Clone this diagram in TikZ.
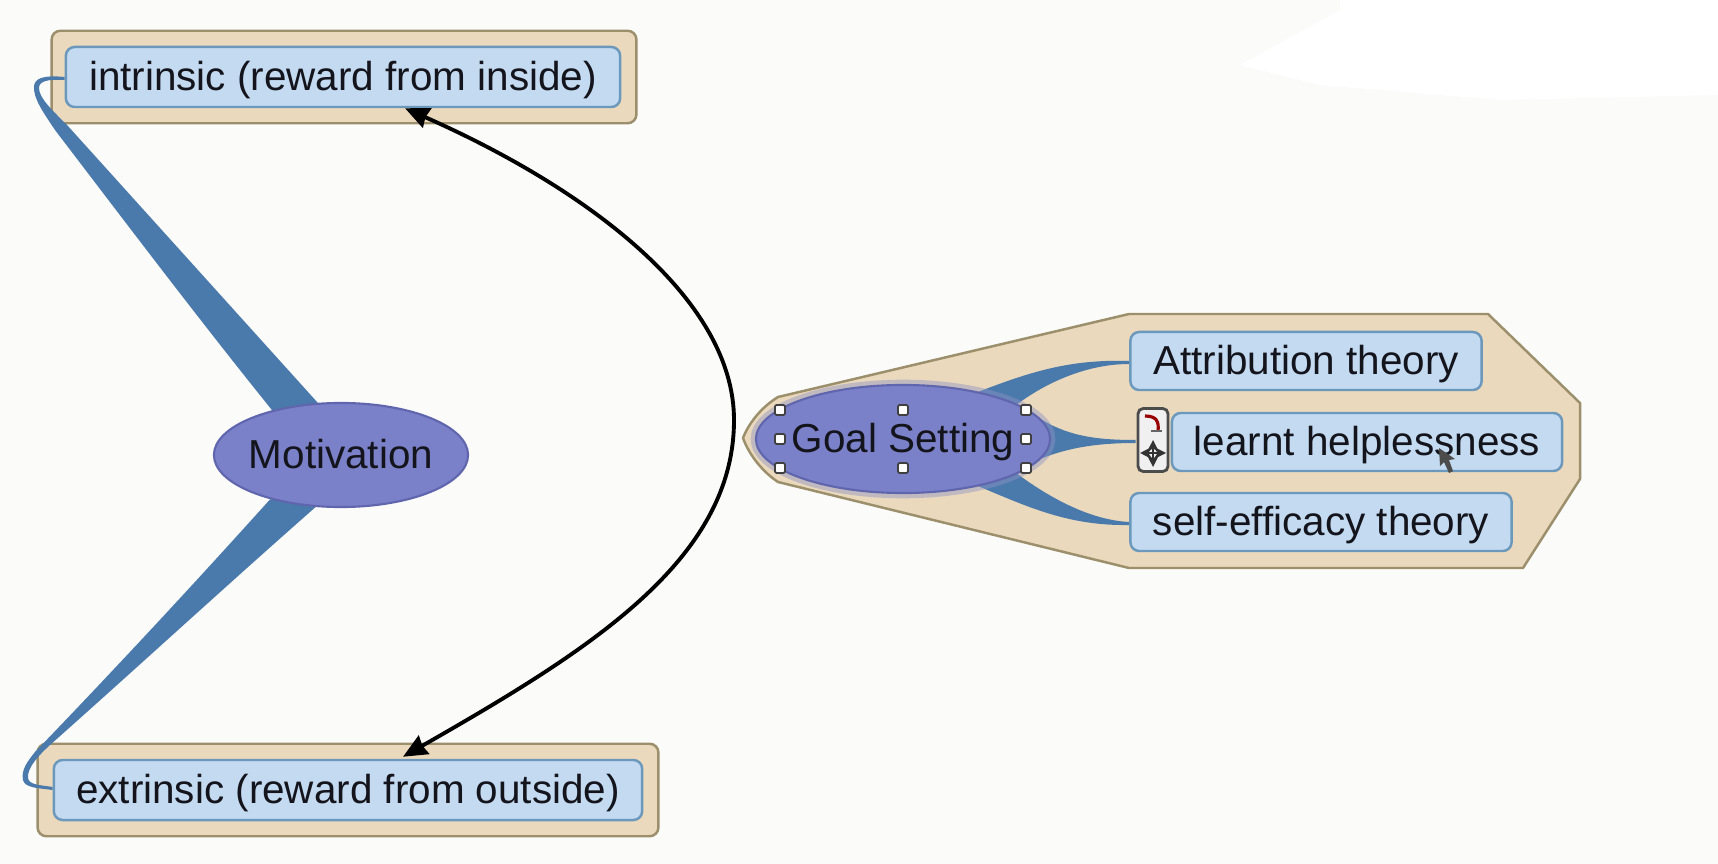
\documentclass[tikz,border=0pt]{standalone}
\usepackage{fontspec}
\setmainfont{Liberation Sans}
\usepackage{tikz}
\usetikzlibrary{calc, arrows.meta, fit, shapes.geometric}
\definecolor{paper}{HTML}{FBFBFA}
\definecolor{tan}{HTML}{EAD9BC}
\definecolor{tanline}{HTML}{9C8F6C}
\definecolor{leaf}{HTML}{C3DAF1}
\definecolor{leafline}{HTML}{6C98BC}
\definecolor{link}{HTML}{4A79AB}
\definecolor{hub}{HTML}{7B81C9}
\definecolor{hubline}{HTML}{6066AE}
\definecolor{ink}{HTML}{14141C}
\pgfdeclarelayer{grouplayer}
\pgfdeclarelayer{linklayer}
\pgfsetlayers{grouplayer,linklayer,main}
\tikzset{
  leafbox/.style={draw=leafline, line width=0.7pt, fill=leaf, rounded corners=2.5pt, inner sep=0pt, minimum height=0.58cm, text=ink, text height=10.4pt, text depth=2.6pt},
  hubnode/.style={ellipse, draw=hubline, line width=0.6pt, fill=hub, inner xsep=-0.3cm, inner ysep=-0.1cm, text=ink, text height=10.4pt, text depth=2.6pt},
  groupbox/.style={draw=tanline, line width=0.7pt, fill=tan, rounded corners=2.5pt, inner sep=0.15cm},
  handle/.style={draw=black!75, fill=white, line width=0.5pt, inner sep=0pt, minimum size=0.1cm, rectangle, rounded corners=0.4pt},
}
\begin{document}
\begin{tikzpicture}[x=0.01cm, y=-0.01cm, font=\fontsize{11.5}{14}\selectfont]
  \useasboundingbox (0,0) rectangle (1718,864);

  \node[hubnode, minimum width=2.54cm, minimum height=1.04cm] (motivation) at (341,455) {Motivation};
  \node[hubnode, minimum width=2.94cm, minimum height=1.08cm, preaction={draw=hubline!70, line width=3pt, opacity=0.45}] (goal) at (903,439) {Goal Setting};

  \node[leafbox, minimum width=5.54cm, minimum height=0.60cm] (intrinsic) at (343,77) {intrinsic (reward from inside)};
  \node[leafbox, minimum width=5.88cm, minimum height=0.60cm] (extrinsic) at (348,790) {extrinsic (reward from outside)};
  \node[leafbox, minimum width=3.51cm] (attribution) at (1306,361) {Attribution theory};
  \node[leafbox, minimum width=3.90cm] (learnt) at (1367,442) {learnt helplessness};
  \node[leafbox, minimum width=3.81cm] (efficacy) at (1321,522) {self-efficacy theory};

  \begin{pgfonlayer}{grouplayer}
    \fill[paper] (0,0) rectangle (1718,864);
    % washed out patch top right
    \fill[white] (1240,65) -- (1340,10) -- (1340,0) -- (1718,0) -- (1718,95) -- (1500,100) -- (1320,85) -- cycle;
    \node[groupbox, fit=(intrinsic), inner xsep=0.14cm, xshift=0.01cm] (topgroup) {};
    \node[groupbox, fit=(extrinsic)] (bottomgroup) {};
    \draw[draw=tanline, line width=0.7pt, fill=tan, line join=round]
      (743,438) .. controls (748,425) and (760,408) .. (778,397) -- (1129,314) -- (1488,314) -- (1580,403) -- (1580,479)
      -- (1523,568) -- (1129,568) -- (778,482) .. controls (760,470) and (748,452) .. (743,438) -- cycle;
  \end{pgfonlayer}

  % tapered branches behind the ellipses
  \begin{pgfonlayer}{linklayer}
    \fill[link] (motivation.147) .. controls (197,317) and (126,223) .. (55,130)
      .. controls (43,112) and (33,98) .. (34,86) .. controls (35,78) and (44,75) .. (intrinsic.west)
      -- ($(intrinsic.west)+(0,3)$) .. controls (48,79) and (39,81) .. (39,88)
      .. controls (39,98) and (52,110) .. (67,125) .. controls (151,218) and (234,310) .. (motivation.114) -- cycle;
    \fill[link] (motivation.212) .. controls (193,585) and (114,670) .. (35,752)
      .. controls (27,762) and (21,770) .. (23,780) .. controls (25,788) and (38,788) .. (extrinsic.west)
      -- ($(extrinsic.west)+(0,-3)$) .. controls (40,785) and (29,785) .. (28,778)
      .. controls (27,768) and (38,756) .. (50,745) .. controls (140,665) and (227,585) .. (motivation.244) -- cycle;
    \fill[link] (goal.32) .. controls (1030,372) and (1070,359) .. (attribution.west)
      -- ($(attribution.west)+(0,3)$) .. controls (1090,364) and (1050,380) .. (goal.17) -- cycle;
    \fill[link] (goal.8) .. controls (1070,437) and (1100,440) .. ($(learnt.west)+(-35,-2)$)
      -- ($(learnt.west)+(-35,1)$) .. controls (1100,443) and (1070,447) .. (goal.352) -- cycle;
    \fill[link] (goal.-17) .. controls (1050,498) and (1090,520) .. (efficacy.west)
      -- ($(efficacy.west)+(0,3)$) .. controls (1070,526) and (1030,508) .. (goal.-32) -- cycle;
  \end{pgfonlayer}

  % selection handles
  \foreach \dx in {-123,0,123}{
    \foreach \dy in {-29,0,29}{
      \ifnum\dx=0 \ifnum\dy=0 \else
        \node[handle] at ($(goal)+(\dx,\dy)$) {};
      \fi \else
        \node[handle] at ($(goal)+(\dx,\dy)$) {};
      \fi
    }
  }

  % the little move widget beside the selected leaf
  \node[draw=black!70, fill=white!94!black, line width=0.8pt, rounded corners=1.5pt, minimum width=0.30cm, minimum height=0.63cm, inner sep=0pt] (widget) at (1153,440) {};
  \draw[red!60!black, line width=0.9pt] ($(widget)+(-8,-24)$) .. controls ($(widget)+(4,-24)$) and ($(widget)+(6,-18)$) .. ($(widget)+(5,-9)$);
  \draw[black!60, line width=0.5pt] ($(widget)+(-2,-9)$) -- ($(widget)+(9,-9)$);
  \draw[black!80, {Stealth[length=3.5pt, width=3.5pt]}-{Stealth[length=3.5pt, width=3.5pt]}, line width=0.6pt] ($(widget)+(-13,13)$) -- ($(widget)+(13,13)$);
  \draw[black!80, {Stealth[length=3.5pt, width=3.5pt]}-{Stealth[length=3.5pt, width=3.5pt]}, line width=0.6pt] ($(widget)+(0,0)$) -- ($(widget)+(0,27)$);

  % mouse pointer
  \fill[black!70] (1439,448) -- (1440,466) -- (1444,462) -- (1449,473) -- (1453,471) -- (1449,460) -- (1455,459) -- cycle;

  % the long arc between the two leaves
  \draw[{Stealth[length=0.24cm, width=0.21cm, inset=0.5pt]}-{Stealth[length=0.24cm, width=0.21cm, inset=0.5pt]}, black, line width=1.1pt]
    ($(intrinsic.south)+(62,0)$) .. controls (590,190) and (734,300) .. (734,420)
    .. controls (734,560) and (590,650) .. ($(extrinsic.north)+(55,-2)$);
\end{tikzpicture}
\end{document}
